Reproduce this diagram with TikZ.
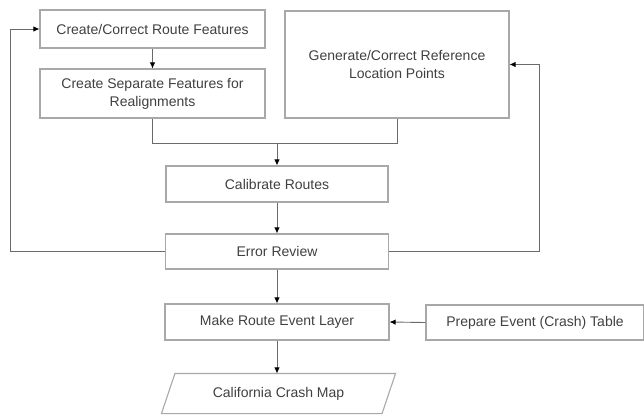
\documentclass[tikz,border=0pt]{standalone}
\usepackage{fontspec}
\setmainfont{Liberation Sans}
\usetikzlibrary{arrows.meta,calc}
\definecolor{boxline}{HTML}{A8A8A8}
\definecolor{conline}{HTML}{6A6A6A}
\definecolor{txt}{HTML}{404040}
\tikzset{
  procbox/.style={draw=boxline, line width=1.1pt, rectangle, align=center,
    text=txt, font=\fontsize{14}{18}\selectfont, inner sep=2pt},
  conn/.style={draw=conline, line width=0.9pt},
  arr/.style={conn, -{Latex[length=6pt,width=5.5pt,color=black]}},
}
\begin{document}
\begin{tikzpicture}[x=1pt,y=-1pt]
\useasboundingbox (0,0) rectangle (644,418);
\node[procbox, minimum width=225pt, minimum height=38pt] (b1) at (152.5,29) {Create/Correct Route Features};
\node[procbox, minimum width=225pt, minimum height=49pt] (b2) at (152.5,93.5) {Create Separate Features for\\Realignments};
\node[procbox, minimum width=224pt, minimum height=107pt] (b3) at (397,64.5) {Generate/Correct Reference\\Location Points};
\node[procbox, minimum width=222pt, minimum height=36pt] (cal) at (277,184) {Calibrate Routes};
\node[procbox, minimum width=223pt, minimum height=35pt] (err) at (277,251.5) {Error Review};
\node[procbox, minimum width=224pt, minimum height=36pt] (make) at (277,322) {Make Route Event Layer};
\node[procbox, minimum width=218pt, minimum height=35pt] (prep) at (535,322.5) {Prepare Event (Crash) Table};
\node[procbox, draw=none, minimum width=233pt, minimum height=39pt] (map) at (278.5,393.5) {California Crash Map};
\draw[draw=boxline, line width=1.1pt] ($(map.north west)+(13.5,0)$) -- (map.north east) -- ($(map.south east)+(-13.5,0)$) -- (map.south west) -- cycle;

\coordinate (merge) at (277,143);
\coordinate (loopL) at (10,251.5);
\coordinate (loopR) at (539,251.5);

\draw[arr] (b1.south) -- (b2.north);
\draw[conn] (b2.south) |- (merge);
\draw[conn] (b3.south) |- (merge);
\draw[arr] (merge) -- (cal.north);
\draw[arr] (cal.south) -- (err.north);
\draw[arr] (err.west) -- (loopL) |- (b1.west);
\draw[arr] (err.east) -- (loopR) |- (b3.east);
\draw[arr] (err.south) -- (make.north);
\draw[arr] (prep.west) -- (make.east);
\draw[arr] (make.south) -- (make.south |- map.north);
\end{tikzpicture}
\end{document}
